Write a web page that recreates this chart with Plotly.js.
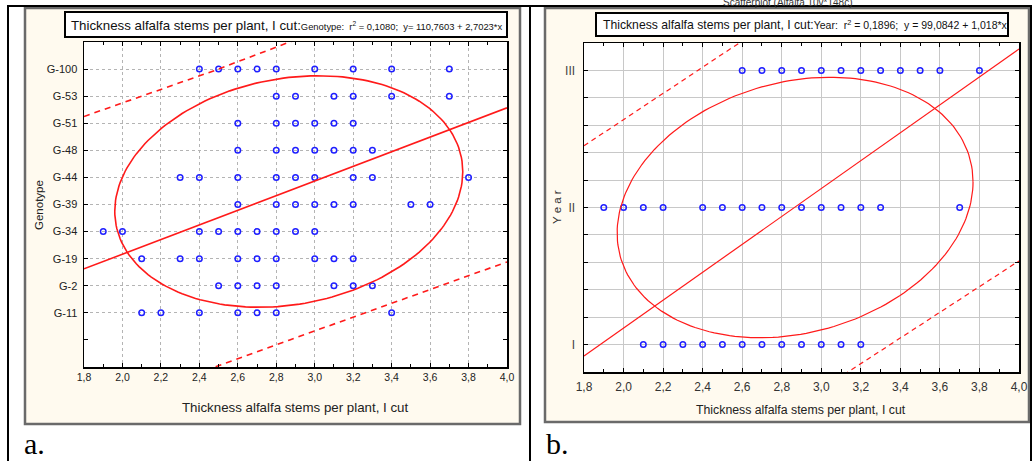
<!DOCTYPE html>
<html><head><meta charset="utf-8">
<script src="https://cdn.plot.ly/plotly-3.0.1.min.js"></script>
<style>html,body{margin:0;padding:0;background:#fff;}#chart{width:1033px;height:461px;}</style>
</head><body><div id="chart"></div>
<script>
// ---------- Data: panel a (Genotype) ----------
const genotypeLabels = ['G-11','G-2','G-19','G-34','G-39','G-44','G-48','G-51','G-53','G-100'];
const genotypeCodes  = [114,115,116,117,118,119,120,121,122,123];
const thickG11  = [2.1,2.2,2.4,2.6,2.7,2.8,3.4];
const thickG2   = [2.5,2.6,2.7,2.8,3.1,3.2,3.3];
const thickG19  = [2.1,2.3,2.4,2.6,2.7,2.8,3.0,3.1,3.2];
const thickG34  = [1.9,2.0,2.4,2.5,2.6,2.7,2.8,2.9,3.0];
const thickG39  = [2.6,2.8,2.9,3.0,3.1,3.2,3.5,3.6];
const thickG44  = [2.3,2.4,2.6,2.8,2.9,3.0,3.2,3.3,3.8];
const thickG48  = [2.6,2.8,2.9,3.0,3.1,3.2,3.3];
const thickG51  = [2.6,2.8,2.9,3.0,3.1,3.2];
const thickG53  = [2.8,2.9,3.1,3.2,3.4,3.7];
const thickG100 = [2.4,2.5,2.6,2.7,2.8,3.0,3.2,3.4,3.7];
const regA_intercept = 110.7603, regA_slope = 2.7023;
const bandA_x     = [1.8, 2.48, 2.87, 4.0];
const bandA_upper = [121.25, 122.95, 124.0, 127.22];
const bandA_lower = [109.95, 112.0, 113.0, 115.88];
const ellA = {cx:2.865, cy:118.48, ax:0.905, by:4.275, d:1.399};

// ---------- Data: panel b (Year) ----------
const yearLabels = ['I','II','III'];
const yearCodes  = [101,102,103];
const thickI   = [2.1,2.2,2.3,2.4,2.5,2.6,2.7,2.8,2.9,3.0,3.1,3.2];
const thickII  = [1.9,2.0,2.1,2.2,2.4,2.5,2.6,2.7,2.8,2.9,3.0,3.1,3.2,3.3,3.7];
const thickIII = [2.6,2.7,2.8,2.9,3.0,3.1,3.2,3.3,3.4,3.5,3.6,3.8];
const regB_intercept = 99.0842, regB_slope = 1.018;
const bandB_xu    = [1.8, 2.585, 2.87, 4.0];
const bandB_upper = [102.45, 103.2, 103.48, 104.71];
const bandB_xl    = [1.8, 2.87, 3.135, 4.0];
const bandB_lower = [99.37, 100.54, 100.8, 101.61];
const ellB = {cx:2.8675, cy:102.0, ax:0.90, by:0.95, d:1.373};

const xTickVals = [1.8,2.0,2.2,2.4,2.6,2.8,3.0,3.2,3.4,3.6,3.8,4.0];
const xTickText = ['1,8','2,0','2,2','2,4','2,6','2,8','3,0','3,2','3,4','3,6','3,8','4,0'];

// ---------- helpers ----------
const W = 1033, H = 461;
const px = v => v / W, py = v => 1 - v / H;
function rows(codes, lists){ const x=[],y=[]; lists.forEach((l,i)=>l.forEach(v=>{x.push(v);y.push(codes[i]);})); return {x,y}; }
function ellipse(p){ const xs=[],ys=[]; for(let i=0;i<=200;i++){const t=2*Math.PI*i/200; xs.push(p.cx+p.ax*Math.cos(t)); ys.push(p.cy+p.by*Math.cos(t-p.d));} return {xs,ys}; }

const ptsA = rows(genotypeCodes,[thickG11,thickG2,thickG19,thickG34,thickG39,thickG44,thickG48,thickG51,thickG53,thickG100]);
const ptsB = rows(yearCodes,[thickI,thickII,thickIII]);
const eA = ellipse(ellA), eB = ellipse(ellB);
const lineX = [1.8, 4.0];

const SANS = '"Liberation Sans", Arial, sans-serif';
const SERIF = '"Liberation Serif", "Times New Roman", serif';
const RED = '#ff1a1a', BLUE = '#1f1fff';

const traces = [
  {x:ptsA.x, y:ptsA.y, xaxis:'x', yaxis:'y', mode:'markers', type:'scatter',
   marker:{symbol:'circle-open', size:5.5, color:BLUE, line:{width:1.5, color:BLUE}}, hoverinfo:'skip'},
  {x:lineX, y:lineX.map(v=>regA_intercept+regA_slope*v), xaxis:'x', yaxis:'y', mode:'lines', line:{color:RED,width:1.6}},
  {x:bandA_x, y:bandA_upper, xaxis:'x', yaxis:'y', mode:'lines', line:{color:RED,width:1.6,dash:'6px,5px'}},
  {x:bandA_x, y:bandA_lower, xaxis:'x', yaxis:'y', mode:'lines', line:{color:RED,width:1.6,dash:'6px,5px'}},
  {x:eA.xs, y:eA.ys, xaxis:'x', yaxis:'y', mode:'lines', line:{color:RED,width:1.6}},

  {x:ptsB.x, y:ptsB.y, xaxis:'x2', yaxis:'y2', mode:'markers', type:'scatter',
   marker:{symbol:'circle-open', size:5.5, color:BLUE, line:{width:1.5, color:BLUE}}, hoverinfo:'skip'},
  {x:lineX, y:lineX.map(v=>regB_intercept+regB_slope*v), xaxis:'x2', yaxis:'y2', mode:'lines', line:{color:RED,width:1.2}},
  {x:bandB_xu, y:bandB_upper, xaxis:'x2', yaxis:'y2', mode:'lines', line:{color:RED,width:1.2,dash:'5px,4px'}},
  {x:bandB_xl, y:bandB_lower, xaxis:'x2', yaxis:'y2', mode:'lines', line:{color:RED,width:1.2,dash:'5px,4px'}},
  {x:eB.xs, y:eB.ys, xaxis:'x2', yaxis:'y2', mode:'lines', line:{color:RED,width:1.2}}
];

const axBase = {showline:true, linecolor:'#000', linewidth:1.5, mirror:'allticks', ticks:'inside', ticklen:4,
  tickcolor:'#000', zeroline:false, fixedrange:true, showgrid:true};

const layout = {
  width:W, height:H, margin:{l:0,r:0,t:0,b:0}, showlegend:false,
  paper_bgcolor:'#fff', plot_bgcolor:'rgba(0,0,0,0)',
  xaxis: Object.assign({}, axBase, {domain:[px(84),px(507)], range:[1.8,4.0], anchor:'y',
    tickmode:'array', tickvals:xTickVals, ticktext:xTickText, tickfont:{family:SANS,size:10.5,color:'#222'},
    gridcolor:'#b4b4b4', griddash:'dot', ticklabelstandoff:0,
    minor:{dtick:0.1, tick0:1.8, ticks:'inside', ticklen:3, tickcolor:'#000', showgrid:false}}),
  yaxis: Object.assign({}, axBase, {domain:[py(367),py(42)], range:[112,124], anchor:'x',
    tickmode:'array', tickvals:genotypeCodes, ticktext:genotypeLabels, tickfont:{family:SANS,size:11,color:'#222'},
    gridcolor:'#b4b4b4', griddash:'dot', ticklabelstandoff:3,
    minor:{tickmode:'array', tickvals:[113], ticks:'inside', ticklen:4, tickcolor:'#000', showgrid:false}}),
  xaxis2: Object.assign({}, axBase, {domain:[px(584),px(1019)], range:[1.8,4.0], anchor:'y2',
    tickmode:'array', tickvals:xTickVals, ticktext:xTickText, tickfont:{family:SANS,size:12,color:'#333'},
    gridcolor:'#c8c8c8', ticklabelstandoff:3,
    minor:{dtick:0.1, tick0:1.8, ticks:'inside', ticklen:3, tickcolor:'#000', showgrid:false}}),
  yaxis2: Object.assign({}, axBase, {domain:[py(372),py(43)], range:[100.8,103.2], anchor:'x2',
    tickmode:'array', tickvals:yearCodes, ticktext:yearLabels, tickfont:{family:SANS,size:12,color:'#444'},
    gridcolor:'#c8c8c8', ticklabelstandoff:5,
    minor:{dtick:0.2, tick0:101, ticks:'inside', ticklen:4, tickcolor:'#000', showgrid:true, gridcolor:'#c8c8c8'}}),
  shapes: [
    {type:'rect', xref:'paper', yref:'paper', x0:px(25), x1:px(520), y0:py(424), y1:py(8), fillcolor:'#fffaef', line:{color:'#6a6a6a', width:2.5}, layer:'below'},
    {type:'rect', xref:'paper', yref:'paper', x0:px(545), x1:px(1029), y0:py(422), y1:py(8), fillcolor:'#fffaef', line:{color:'#6a6a6a', width:2.5}, layer:'below'},
    {type:'rect', xref:'paper', yref:'paper', x0:px(84), x1:px(507), y0:py(367), y1:py(42), fillcolor:'#fff', line:{width:0}, layer:'below'},
    {type:'rect', xref:'paper', yref:'paper', x0:px(584), x1:px(1019), y0:py(372), y1:py(43), fillcolor:'#fff', line:{width:0}, layer:'below'},
    {type:'rect', xref:'paper', yref:'paper', x0:px(65), x1:px(507), y0:py(37), y1:py(12), fillcolor:'#fff', line:{color:'#000', width:2}, layer:'below'},
    {type:'rect', xref:'paper', yref:'paper', x0:px(596), x1:px(1008), y0:py(36), y1:py(13), fillcolor:'#fff', line:{color:'#000', width:2}, layer:'below'},
    {type:'line', xref:'paper', yref:'paper', x0:px(7), x1:px(1032), y0:py(6), y1:py(6), line:{color:'#000', width:2}},
    {type:'line', xref:'paper', yref:'paper', x0:px(8), x1:px(8), y0:py(6), y1:py(461), line:{color:'#000', width:2}},
    {type:'line', xref:'paper', yref:'paper', x0:px(530), x1:px(530), y0:py(6), y1:py(461), line:{color:'#000', width:2}},
    {type:'line', xref:'paper', yref:'paper', x0:px(1031), x1:px(1031), y0:py(6), y1:py(461), line:{color:'#000', width:2}}
  ],
  annotations: [
    {xref:'paper', yref:'paper', x:px(69), y:py(25), xanchor:'left', yanchor:'middle', showarrow:false,
     text:'Thickness alfalfa stems per plant, I cut:<span style="font-size:9.4px">Genotype:\u00a0 r<sup>2</sup> = 0,1080;\u00a0 y= 110,7603 + 2,7023*x</span>',
     font:{family:SANS, size:13.3, color:'#111'}},
    {xref:'paper', yref:'paper', x:px(601), y:py(25), xanchor:'left', yanchor:'middle', showarrow:false,
     text:'Thickness alfalfa stems per plant, I cut:<span style="font-size:10.5px">Year:\u00a0 r<sup>2</sup> = 0,1896;\u00a0 y = 99,0842 + 1,018*x</span>',
     font:{family:SANS, size:12.2, color:'#111'}},
    {xref:'paper', yref:'paper', x:px(788), y:py(10), xanchor:'center', yanchor:'bottom', showarrow:false,
     text:'Scatterplot (Alfalfa 10v*148c)', font:{family:SANS, size:10, color:'#333'}},
    {xref:'paper', yref:'paper', x:px(295), y:py(407), xanchor:'center', yanchor:'middle', showarrow:false,
     text:'Thickness alfalfa stems per plant, I cut', font:{family:SANS, size:13.3, color:'#222'}},
    {xref:'paper', yref:'paper', x:px(801), y:py(410), xanchor:'center', yanchor:'middle', showarrow:false,
     text:'Thickness alfalfa stems per plant, I cut', font:{family:SANS, size:12.3, color:'#222'}},
    {xref:'paper', yref:'paper', x:px(39), y:py(205), xanchor:'center', yanchor:'middle', showarrow:false, textangle:-90,
     text:'Genotype', font:{family:SANS, size:11.5, color:'#222'}},
    {xref:'paper', yref:'paper', x:px(557), y:py(207), xanchor:'center', yanchor:'middle', showarrow:false, textangle:-90,
     text:'Y e a r', font:{family:SANS, size:11.5, color:'#333'}},
    {xref:'paper', yref:'paper', x:px(22), y:py(462), xanchor:'left', yanchor:'bottom', showarrow:false,
     text:'a.', font:{family:SERIF, size:30, color:'#000'}},
    {xref:'paper', yref:'paper', x:px(544), y:py(462), xanchor:'left', yanchor:'bottom', showarrow:false,
     text:'b.', font:{family:SERIF, size:30, color:'#000'}}
  ]
};

Plotly.newPlot('chart', traces, layout, {staticPlot:true, displayModeBar:false});
</script>
</body></html>
